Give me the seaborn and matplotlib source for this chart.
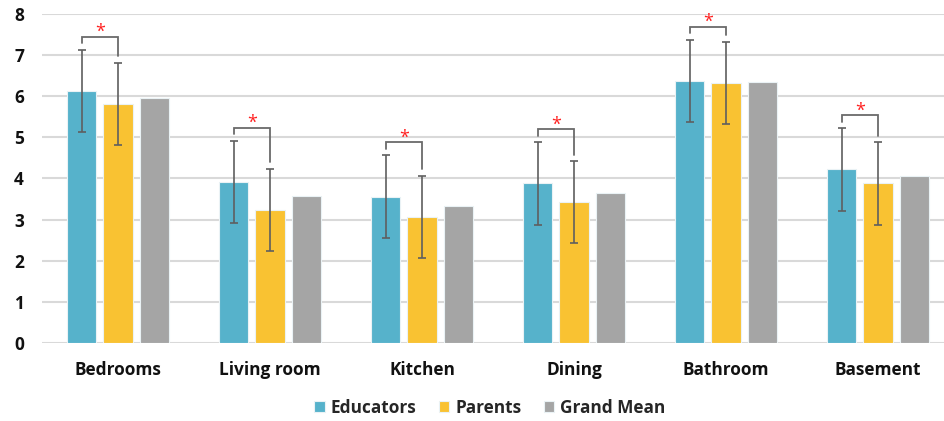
import matplotlib
matplotlib.use("Agg")
import matplotlib.pyplot as plt
import seaborn as sns
import pandas as pd
import numpy as np

categories = ["Bedrooms", "Living room", "Kitchen", "Dining", "Bathroom", "Basement"]
series_names = ["Educators", "Parents", "Grand Mean"]
educators = [6.13, 3.91, 3.56, 3.88, 6.37, 4.22]
parents = [5.81, 3.24, 3.07, 3.42, 6.33, 3.88]
grand_mean = [5.96, 3.57, 3.32, 3.65, 6.34, 4.05]
educators_err = [1.0, 1.0, 1.0, 1.0, 1.0, 1.0]
parents_err = [1.0, 1.0, 1.0, 1.0, 1.0, 1.0]
significant = [True, True, True, True, True, True]
y_ticks = [0, 1, 2, 3, 4, 5, 6, 7, 8]

colors = ["#56B2CB", "#F9C232", "#A5A5A5"]

df = pd.DataFrame({
    "Room": categories * 3,
    "Group": [series_names[0]] * 6 + [series_names[1]] * 6 + [series_names[2]] * 6,
    "Value": educators + parents + grand_mean,
})

sns.set_theme(style="white")
plt.rcParams["font.family"] = ["Open Sans", "DejaVu Sans"]
plt.rcParams["font.weight"] = "bold"

FS = 12.4

fig = plt.figure(figsize=(9.44, 4.21), dpi=100)
ax = fig.add_axes([42 / 944, 78 / 421, 902 / 944, 329 / 421])

sns.barplot(data=df, x="Room", y="Value", hue="Group", order=categories,
            hue_order=series_names, palette=colors, width=0.72, gap=0.18,
            errorbar=None, ax=ax, edgecolor="#EAF2F5", linewidth=0.8,
            saturation=1, zorder=3)

ax.set_ylim(0, 8)
ax.set_xlim(-0.5, -0.5 + 902 / 152)
ax.set_yticks(y_ticks)
ax.yaxis.grid(True, color="#D9D9D9", linewidth=1.5, zorder=0)
ax.set_axisbelow(True)
for s in ax.spines.values():
    s.set_visible(False)
ax.set_xlabel("")
ax.set_ylabel("")
ax.tick_params(axis="both", length=0, labelsize=FS)
ax.tick_params(axis="x", pad=13)
ax.tick_params(axis="y", pad=13)
for lab in ax.get_xticklabels() + ax.get_yticklabels():
    lab.set_fontweight("bold")
    lab.set_color("#111111")

# error bars positioned on the seaborn bars
conts = ax.containers
err_sets = [educators_err, parents_err]
vals_sets = [educators, parents]
centers = []
for ci in range(2):
    xs = [p.get_x() + p.get_width() / 2 for p in conts[ci].patches]
    centers.append(xs)
    ax.errorbar(xs, vals_sets[ci], yerr=err_sets[ci], fmt="none",
                ecolor="#5F5F5F", elinewidth=1.2, capsize=3.2, capthick=1.2,
                zorder=4)

# significance brackets
for i in range(len(categories)):
    if not significant[i]:
        continue
    x1, x2 = centers[0][i], centers[1][i]
    top1 = educators[i] + educators_err[i]
    top2 = parents[i] + parents_err[i]
    h = max(top1, top2) + 0.32
    ax.plot([x1, x1, x2, x2], [top1 + 0.16, h, h, top2 + 0.16],
            color="#6A6A6A", linewidth=1.3, zorder=5, solid_joinstyle="miter")
    ax.text((x1 + x2) / 2, h - 0.01, "*", color="#FF2020", ha="center",
            va="baseline", fontsize=13, fontweight="normal", zorder=6)

handles, labels = ax.get_legend_handles_labels()
ax.legend(handles, labels, loc="center", bbox_to_anchor=(0.519, 13 / 421),
          bbox_transform=fig.transFigure, ncol=3, frameon=False,
          handlelength=0.6, handleheight=0.6, handletextpad=0.35,
          columnspacing=1.3, prop={"size": FS, "weight": "bold"})

fig.savefig("out.png", dpi=100)
